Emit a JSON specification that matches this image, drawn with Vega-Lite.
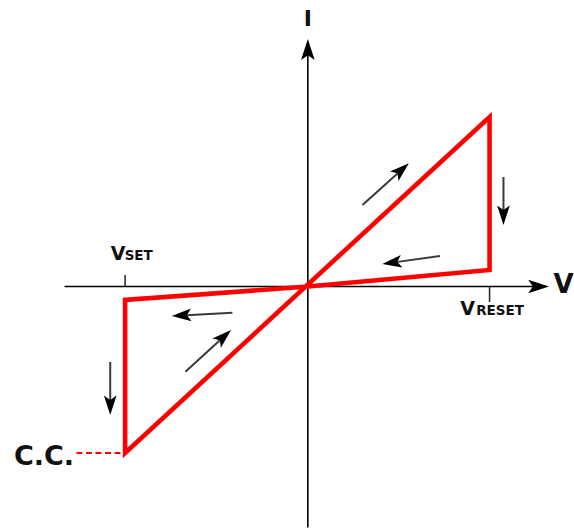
{
  "$schema": "https://vega.github.io/schema/vega-lite/v6.json",
  "width": 574,
  "height": 531,
  "autosize": {"type": "fit", "contains": "padding"},
  "padding": 0,
  "background": "white",
  "config": {"view": {"stroke": null}},
  "datasets": {
    "loop": [
      {"o": 1, "v": -1.84, "i": -0.9},
      {"o": 2, "v": -1.84, "i": -1.665},
      {"o": 3, "v": 1.83, "i": 1.695},
      {"o": 4, "v": 1.83, "i": 0.165},
      {"o": 5, "v": 0, "i": 0},
      {"o": 6, "v": -1.84, "i": -0.135},
      {"o": 7, "v": -1.84, "i": -0.9}
    ],
    "compliance": [
      {"v": -2.33, "i": -1.665, "v2": -1.84, "i2": -1.665}
    ],
    "axes": [
      {"name": "V", "v": -2.45, "i": 0, "v2": 2.43, "i2": 0},
      {"name": "I", "v": 0, "i": -2.41, "v2": 0, "i2": 2.475}
    ],
    "ticks": [
      {"name": "Vset", "v": -1.84, "i": 0, "v2": -1.84, "i2": 0.115},
      {"name": "Vreset", "v": 1.83, "i": 0, "v2": 1.83, "i2": -0.155}
    ],
    "flow": [
      {"v": 0.55, "i": 0.815, "v2": 1.017, "i2": 1.232},
      {"v": 1.97, "i": 1.095, "v2": 1.97, "i2": 0.615},
      {"v": 1.33, "i": 0.305, "v2": 0.75, "i2": 0.225},
      {"v": -0.76, "i": -0.262, "v2": -1.37, "i2": -0.295},
      {"v": -1.233, "i": -0.852, "v2": -0.773, "i2": -0.435},
      {"v": -1.99, "i": -0.755, "v2": -1.99, "i2": -1.285}
    ],
    "bigText": [
      {"t": "I", "v": 0, "i": 2.61},
      {"t": "V", "v": 2.475, "i": -0.065},
      {"t": "C.C.", "v": -2.96, "i": -1.785}
    ],
    "voltLetters": [
      {"t": "V", "v": -1.985, "i": 0.265},
      {"t": "V", "v": 1.535, "i": -0.285}
    ],
    "voltSuffix": [
      {"t": "SET", "v": -1.845, "i": 0.265},
      {"t": "RESET", "v": 1.695, "i": -0.285}
    ]
  },
  "layer": [
    {
      "data": {"name": "axes"},
      "transform": [
        {"calculate": "sqrt(pow(datum.v2 - datum.v, 2) + pow(datum.i2 - datum.i, 2))", "as": "len"},
        {"calculate": "datum.v2 - 0.1 * (datum.v2 - datum.v) / datum.len", "as": "ve"},
        {"calculate": "datum.i2 - 0.1 * (datum.i2 - datum.i) / datum.len", "as": "ie"}
      ],
      "mark": {"type": "rule", "color": "#000000", "strokeWidth": 1.6},
      "encoding": {
        "x": {"field": "v", "type": "quantitative", "scale": {"domain": [-3.1, 2.64], "nice": false, "zero": false}, "axis": null},
        "y": {"field": "i", "type": "quantitative", "scale": {"domain": [-2.445, 2.865], "nice": false, "zero": false}, "axis": null},
        "x2": {"field": "ve"},
        "y2": {"field": "ie"}
      }
    },
    {
      "data": {"name": "axes"},
      "transform": [
        {"calculate": "atan2(datum.v2 - datum.v, datum.i2 - datum.i) * 180 / PI", "as": "ang"}
      ],
      "mark": {"type": "point", "shape": "M0,0 L0.65,2 L0,1.55 L-0.65,2 Z", "filled": true, "color": "#000000", "opacity": 1, "size": 440},
      "encoding": {
        "x": {"field": "v2", "type": "quantitative", "scale": {"domain": [-3.1, 2.64], "nice": false, "zero": false}, "axis": null},
        "y": {"field": "i2", "type": "quantitative", "scale": {"domain": [-2.445, 2.865], "nice": false, "zero": false}, "axis": null},
        "angle": {"field": "ang", "type": "quantitative", "scale": null}
      }
    },
    {
      "data": {"name": "ticks"},
      "mark": {"type": "rule", "color": "#222222", "strokeWidth": 1.5},
      "encoding": {
        "x": {"field": "v", "type": "quantitative", "scale": {"domain": [-3.1, 2.64], "nice": false, "zero": false}, "axis": null},
        "y": {"field": "i", "type": "quantitative", "scale": {"domain": [-2.445, 2.865], "nice": false, "zero": false}, "axis": null},
        "x2": {"field": "v2"},
        "y2": {"field": "i2"}
      }
    },
    {
      "data": {"name": "compliance"},
      "mark": {"type": "rule", "color": "#ff0000", "strokeWidth": 2, "strokeDash": [6, 3.5]},
      "encoding": {
        "x": {"field": "v", "type": "quantitative", "scale": {"domain": [-3.1, 2.64], "nice": false, "zero": false}, "axis": null},
        "y": {"field": "i", "type": "quantitative", "scale": {"domain": [-2.445, 2.865], "nice": false, "zero": false}, "axis": null},
        "x2": {"field": "v2"},
        "y2": {"field": "i2"}
      }
    },
    {
      "data": {"name": "loop"},
      "mark": {"type": "line", "color": "#ff0000", "strokeWidth": 4.6, "strokeJoin": "miter"},
      "encoding": {
        "x": {"field": "v", "type": "quantitative", "scale": {"domain": [-3.1, 2.64], "nice": false, "zero": false}, "axis": null},
        "y": {"field": "i", "type": "quantitative", "scale": {"domain": [-2.445, 2.865], "nice": false, "zero": false}, "axis": null},
        "order": {"field": "o", "type": "quantitative"}
      }
    },
    {
      "data": {"name": "flow"},
      "transform": [
        {"calculate": "sqrt(pow(datum.v2 - datum.v, 2) + pow(datum.i2 - datum.i, 2))", "as": "len"},
        {"calculate": "datum.v2 - 0.1 * (datum.v2 - datum.v) / datum.len", "as": "ve"},
        {"calculate": "datum.i2 - 0.1 * (datum.i2 - datum.i) / datum.len", "as": "ie"}
      ],
      "mark": {"type": "rule", "color": "#3a3a3a", "strokeWidth": 2},
      "encoding": {
        "x": {"field": "v", "type": "quantitative", "scale": {"domain": [-3.1, 2.64], "nice": false, "zero": false}, "axis": null},
        "y": {"field": "i", "type": "quantitative", "scale": {"domain": [-2.445, 2.865], "nice": false, "zero": false}, "axis": null},
        "x2": {"field": "ve"},
        "y2": {"field": "ie"}
      }
    },
    {
      "data": {"name": "flow"},
      "transform": [
        {"calculate": "atan2(datum.v2 - datum.v, datum.i2 - datum.i) * 180 / PI", "as": "ang"}
      ],
      "mark": {"type": "point", "shape": "M0,0 L0.65,2 L0,1.55 L-0.65,2 Z", "filled": true, "color": "#000000", "opacity": 1, "size": 380},
      "encoding": {
        "x": {"field": "v2", "type": "quantitative", "scale": {"domain": [-3.1, 2.64], "nice": false, "zero": false}, "axis": null},
        "y": {"field": "i2", "type": "quantitative", "scale": {"domain": [-2.445, 2.865], "nice": false, "zero": false}, "axis": null},
        "angle": {"field": "ang", "type": "quantitative", "scale": null}
      }
    },
    {
      "data": {"name": "bigText"},
      "transform": [{"filter": "datum.t == 'I'"}],
      "mark": {"type": "text", "font": "DejaVu Sans", "fontWeight": "bold", "fontSize": 22, "align": "center", "baseline": "alphabetic", "color": "#111111"},
      "encoding": {
        "x": {"field": "v", "type": "quantitative", "scale": {"domain": [-3.1, 2.64], "nice": false, "zero": false}, "axis": null},
        "y": {"field": "i", "type": "quantitative", "scale": {"domain": [-2.445, 2.865], "nice": false, "zero": false}, "axis": null},
        "text": {"field": "t"}
      }
    },
    {
      "data": {"name": "bigText"},
      "transform": [{"filter": "datum.t == 'V'"}],
      "mark": {"type": "text", "font": "DejaVu Sans", "fontWeight": "bold", "fontSize": 26, "align": "left", "baseline": "alphabetic", "color": "#111111"},
      "encoding": {
        "x": {"field": "v", "type": "quantitative", "scale": {"domain": [-3.1, 2.64], "nice": false, "zero": false}, "axis": null},
        "y": {"field": "i", "type": "quantitative", "scale": {"domain": [-2.445, 2.865], "nice": false, "zero": false}, "axis": null},
        "text": {"field": "t"}
      }
    },
    {
      "data": {"name": "bigText"},
      "transform": [{"filter": "datum.t == 'C.C.'"}],
      "mark": {"type": "text", "font": "DejaVu Sans", "fontWeight": "bold", "fontSize": 27, "align": "left", "baseline": "alphabetic", "color": "#111111"},
      "encoding": {
        "x": {"field": "v", "type": "quantitative", "scale": {"domain": [-3.1, 2.64], "nice": false, "zero": false}, "axis": null},
        "y": {"field": "i", "type": "quantitative", "scale": {"domain": [-2.445, 2.865], "nice": false, "zero": false}, "axis": null},
        "text": {"field": "t"}
      }
    },
    {
      "data": {"name": "voltLetters"},
      "mark": {"type": "text", "font": "DejaVu Sans", "fontWeight": "bold", "fontSize": 19, "align": "left", "baseline": "alphabetic", "color": "#111111"},
      "encoding": {
        "x": {"field": "v", "type": "quantitative", "scale": {"domain": [-3.1, 2.64], "nice": false, "zero": false}, "axis": null},
        "y": {"field": "i", "type": "quantitative", "scale": {"domain": [-2.445, 2.865], "nice": false, "zero": false}, "axis": null},
        "text": {"field": "t"}
      }
    },
    {
      "data": {"name": "voltSuffix"},
      "mark": {"type": "text", "font": "DejaVu Sans", "fontWeight": "bold", "fontSize": 13.5, "align": "left", "baseline": "alphabetic", "color": "#111111"},
      "encoding": {
        "x": {"field": "v", "type": "quantitative", "scale": {"domain": [-3.1, 2.64], "nice": false, "zero": false}, "axis": null},
        "y": {"field": "i", "type": "quantitative", "scale": {"domain": [-2.445, 2.865], "nice": false, "zero": false}, "axis": null},
        "text": {"field": "t"}
      }
    }
  ]
}
